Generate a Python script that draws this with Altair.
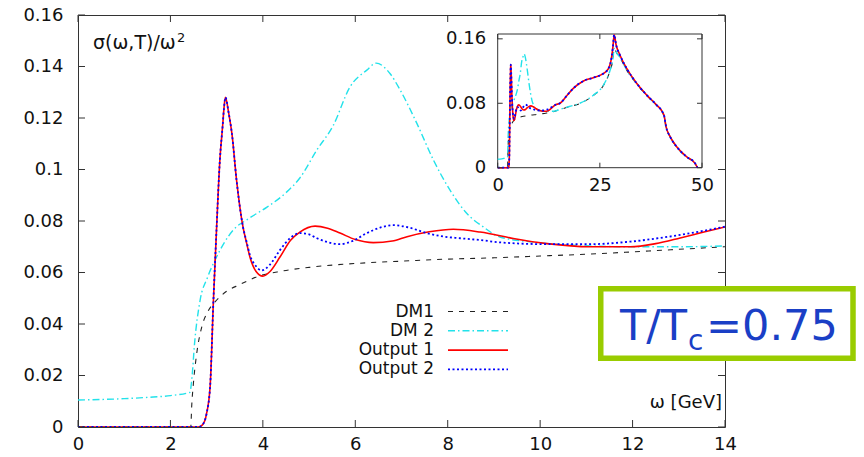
import altair as alt
import pandas as pd

# ---------------- values ----------------
x_ticks = [0, 2, 4, 6, 8, 10, 12, 14]
y_ticks = [0, 0.02, 0.04, 0.06, 0.08, 0.1, 0.12, 0.14, 0.16]
inset_x_ticks = [0, 25, 50]
inset_y_ticks = [0, 0.08, 0.16]

series_names = ["DM1", "DM 2", "Output 1", "Output 2"]

# main panel, omega in GeV (0-14)
dm1_w = [0.0, 2.44, 2.46, 2.5, 2.57, 2.68, 2.8, 2.97, 3.2, 3.5, 3.9, 4.4, 5.0,
         6.0, 7.0, 8.0, 9.0, 10.0, 11.0, 12.0, 13.0, 14.0]
dm1_v = [0.0, 0.0, 0.008, 0.0175, 0.0287, 0.039, 0.0445, 0.0487, 0.0525, 0.0553,
         0.0585, 0.0605, 0.062, 0.0635, 0.0644, 0.0652, 0.0657, 0.0664, 0.0671,
         0.068, 0.069, 0.070]

dm2_w = [0.0, 1.0, 1.5, 2.0, 2.42, 2.47, 2.52, 2.64, 2.8, 2.97, 3.36, 3.7, 4.09,
         4.5, 4.8, 5.17, 5.52, 5.89, 6.25, 6.45, 6.75, 6.97, 7.33, 7.69, 8.05,
         8.41, 8.77, 9.13, 9.85, 10.6, 12.0, 13.0, 14.0]
dm2_v = [0.0105, 0.011, 0.0115, 0.0122, 0.0135, 0.02, 0.032, 0.049, 0.058, 0.065,
         0.0765, 0.081, 0.0854, 0.091, 0.0967, 0.1076, 0.117, 0.1322, 0.1386,
         0.1413, 0.1373, 0.1309, 0.118, 0.1037, 0.092, 0.083, 0.0777, 0.0738,
         0.0718, 0.0707, 0.0700, 0.0700, 0.0703]

out1_w = [0.0, 2.6, 2.7, 2.78, 2.86, 2.93, 3.0, 3.07, 3.13, 3.16, 3.19, 3.26,
          3.33, 3.43, 3.57, 3.65, 3.72, 3.85, 4.0, 4.15, 4.37, 4.6, 4.8, 5.13,
          5.4, 5.67, 6.0, 6.39, 6.8, 7.12, 7.6, 8.12, 8.7, 9.13, 9.42, 10.15,
          11.08, 11.95, 12.5, 13.03, 13.5, 14.0]
out1_v = [0.0, 0.0, 0.001, 0.005, 0.016, 0.049, 0.0778, 0.1037, 0.117, 0.124,
          0.128, 0.122, 0.114, 0.096, 0.0777, 0.0713, 0.066, 0.0605, 0.0586,
          0.0603, 0.066, 0.0725, 0.0757, 0.078, 0.0772, 0.0753, 0.0728, 0.0716,
          0.0722, 0.0739, 0.0758, 0.0768, 0.0757, 0.0743, 0.0732, 0.0712,
          0.0700, 0.0700, 0.0712, 0.0734, 0.0755, 0.0777]

out2_w = [0.0, 2.6, 2.7, 2.78, 2.86, 2.93, 3.0, 3.07, 3.13, 3.16, 3.19, 3.26,
          3.33, 3.43, 3.57, 3.65, 3.72, 3.85, 3.97, 4.15, 4.37, 4.6, 4.8, 5.0,
          5.17, 5.4, 5.67, 5.95, 6.25, 6.55, 6.82, 7.15, 7.55, 7.9, 8.27, 8.7,
          9.13, 10.15, 11.08, 11.95, 13.03, 14.0]
out2_v = [0.0, 0.0, 0.001, 0.005, 0.016, 0.049, 0.0778, 0.1037, 0.117, 0.124,
          0.128, 0.122, 0.114, 0.096, 0.0777, 0.0718, 0.0668, 0.0625, 0.0608,
          0.063, 0.0687, 0.0735, 0.0753, 0.0748, 0.0733, 0.0718, 0.071, 0.0723,
          0.0753, 0.0775, 0.0784, 0.0775, 0.0753, 0.074, 0.0733, 0.0726, 0.0717,
          0.071, 0.071, 0.072, 0.0746, 0.0778]

# inset continuation (omega 14-50 GeV)
dm_ext_w = [15.25, 17.5, 20.1, 23.4, 25.9, 27.5, 28.2, 28.5, 29.2, 29.9, 31.6,
            34.0, 36.5, 38.9, 40.5, 40.7, 41.2, 42.2, 43.8, 46.2, 48.3, 48.9]
dm1_ext_v = [0.0722, 0.0757, 0.0797, 0.0897, 0.1024, 0.1207, 0.1347, 0.1477,
             0.1417, 0.1367, 0.1207, 0.1042, 0.0895, 0.0773, 0.067, 0.0645,
             0.0507, 0.0382, 0.0257, 0.0134, 0.0051, 0.0]
dm2_ext_v = [0.0725, 0.076, 0.080, 0.090, 0.1027, 0.121, 0.135, 0.148, 0.142,
             0.137, 0.121, 0.1045, 0.0898, 0.0776, 0.0673, 0.0648, 0.051,
             0.0385, 0.026, 0.0137, 0.0054, 0.0]
out_ext_w = [15.25, 17.0, 18.5, 21.0, 23.4, 25.9, 27.1, 27.9, 28.2, 28.5, 29.0,
             29.9, 31.6, 34.0, 36.5, 38.9, 40.5, 40.7, 41.2, 42.2, 43.8, 46.2,
             48.3, 48.9]
out_ext_v = [0.080, 0.090, 0.0985, 0.1077, 0.1118, 0.117, 0.123, 0.138, 0.150,
             0.165, 0.152, 0.140, 0.123, 0.1048, 0.090, 0.0778, 0.0675, 0.065,
             0.051, 0.0385, 0.026, 0.0137, 0.0054, 0.0]

# ---------------- layout / style ----------------
W, H = 647, 412
FONT = "DejaVu Sans"
TXT = "#111111"
FRAME = "#333333"
IX0, IX1, IY0, IY1 = 419.7, 624.0, 152.7, 19.0

styles = {
    "DM1": dict(color="#222222", strokeDash=[5, 6], strokeWidth=1.1),
    "DM 2": dict(color="#22e2ea", strokeDash=[7, 3, 1.5, 3], strokeWidth=1.4),
    "Output 1": dict(color="#ff0000", strokeWidth=1.6),
    "Output 2": dict(color="#0000ff", strokeDash=[2, 2.5], strokeWidth=1.8),
}


def main_x():
    return alt.Scale(domain=[0, 14], nice=False, zero=False)


def main_y():
    return alt.Scale(domain=[0, 0.16], nice=False, zero=False)


def ins_x():
    return alt.Scale(domain=[0, 50], range=[IX0, IX1], nice=False, zero=False)


def ins_y():
    return alt.Scale(domain=[0, 0.166], range=[IY0, IY1], nice=False, zero=False)


lab = dict(labelFont=FONT, labelFontSize=18, labelColor=TXT, ticks=False,
           tickSize=0, domain=False, grid=False)
NUM = "format(datum.value, '~g')"
x_axis = alt.Axis(values=x_ticks, orient="bottom", labelPadding=8,
                  labelFlush=False, labelExpr=NUM, **lab)
y_axis = alt.Axis(values=y_ticks, orient="left", labelPadding=15, labelExpr=NUM, **lab)
ix_axis = alt.Axis(values=inset_x_ticks, orient="bottom", offset=IY0 - H,
                   labelPadding=9, labelFlush=False, labelExpr=NUM, **lab)
iy_axis = alt.Axis(values=inset_y_ticks, orient="left", offset=-IX0,
                   labelPadding=12, labelExpr=NUM, **lab)

main_series = [(dm1_w, dm1_v), (dm2_w, dm2_v), (out1_w, out1_v), (out2_w, out2_v)]
inset_series = [(dm1_w + dm_ext_w, dm1_v + dm1_ext_v),
                (dm2_w + dm_ext_w, dm2_v + dm2_ext_v),
                (out1_w + out_ext_w, out1_v + out_ext_v),
                (out2_w + out_ext_w, out2_v + out_ext_v)]

one = pd.DataFrame({"s": [""]})


def lines(series, xs, ys, xa, ya):
    out = []
    for i, (name, (w, v)) in enumerate(zip(series_names, series)):
        out.append(
            alt.Chart(pd.DataFrame({"w": w, "v": v}))
            .mark_line(interpolate="monotone", clip=True, **styles[name])
            .encode(x=alt.X("w:Q", scale=xs(), axis=xa if i == 0 else None, title=""),
                    y=alt.Y("v:Q", scale=ys(), axis=ya if i == 0 else None, title=""))
        )
    return out


def ticks(xvals, yvals, xs, ys, x0, x1, y0, y1, L):
    tx = pd.DataFrame({"t": xvals})
    ty = pd.DataFrame({"t": yvals})
    st = dict(color=FRAME, strokeWidth=1)
    return [
        alt.Chart(tx).mark_rule(**st).encode(
            x=alt.X("t:Q", scale=xs(), axis=None), y=alt.value(y0), y2=alt.value(y0 - L)),
        alt.Chart(tx).mark_rule(**st).encode(
            x=alt.X("t:Q", scale=xs(), axis=None), y=alt.value(y1), y2=alt.value(y1 + L)),
        alt.Chart(ty).mark_rule(**st).encode(
            y=alt.Y("t:Q", scale=ys(), axis=None), x=alt.value(x0), x2=alt.value(x0 + L)),
        alt.Chart(ty).mark_rule(**st).encode(
            y=alt.Y("t:Q", scale=ys(), axis=None), x=alt.value(x1), x2=alt.value(x1 - L)),
    ]


def text(s, x, y, size=18, align="left", baseline="alphabetic", color=TXT):
    return alt.Chart(pd.DataFrame({"s": [s]})).mark_text(
        font=FONT, fontSize=size, align=align, baseline=baseline, color=color
    ).encode(x=alt.value(x), y=alt.value(y), text="s:N")


# legend (labels left, samples right, like gnuplot)
legend_rows = [296.5, 315.8, 335.1, 354.4]
legend = []
for name, yy in zip(series_names, legend_rows):
    legend.append(text(name, 356, yy, size=17, align="right", baseline="middle"))
    legend.append(alt.Chart(one).mark_rule(**styles[name]).encode(
        x=alt.value(370), x2=alt.value(430), y=alt.value(yy)))

annotations = [
    text("σ(ω,T)/ω", 15, 34, size=19),
    text("2", 99, 27, size=13),
    text("ω [GeV]", 644, 393, size=18, align="right"),
    alt.Chart(one).mark_rect(fill="white", stroke="#99cc00", strokeWidth=5.5).encode(
        x=alt.value(522.75), x2=alt.value(775), y=alt.value(273.75), y2=alt.value(343.25)),
    text("T/T", 542, 325, size=43, color="#1a3fc6"),
    text("c", 610, 335, size=28, color="#1a3fc6"),
    text("=0.75", 628, 325, size=43, color="#1a3fc6"),
]

inset_frame = alt.Chart(one).mark_rect(fill="white", stroke=FRAME, strokeWidth=1).encode(
    x=alt.value(IX0), x2=alt.value(IX1), y=alt.value(IY1), y2=alt.value(IY0))

all_layers = (
    lines(main_series, main_x, main_y, x_axis, y_axis)
    + ticks(x_ticks, y_ticks, main_x, main_y, 0, W, H, 0, 7)
    + legend
    + annotations
    + [inset_frame]
    + lines(inset_series, ins_x, ins_y, ix_axis, iy_axis)
    + ticks(inset_x_ticks, inset_y_ticks, ins_x, ins_y, IX0, IX1, IY0, IY1, 5)
)

chart = (
    alt.layer(*all_layers)
    .resolve_scale(x="independent", y="independent")
    .properties(
        width=W, height=H,
        autosize=alt.AutoSizeParams(type="none"),
        padding={"left": 70, "top": 7, "right": 131, "bottom": 28},
        background="white",
    )
    .configure_view(stroke=FRAME, strokeWidth=1)
)

chart.save("out.html", embed_options={"renderer": "svg", "actions": False})
